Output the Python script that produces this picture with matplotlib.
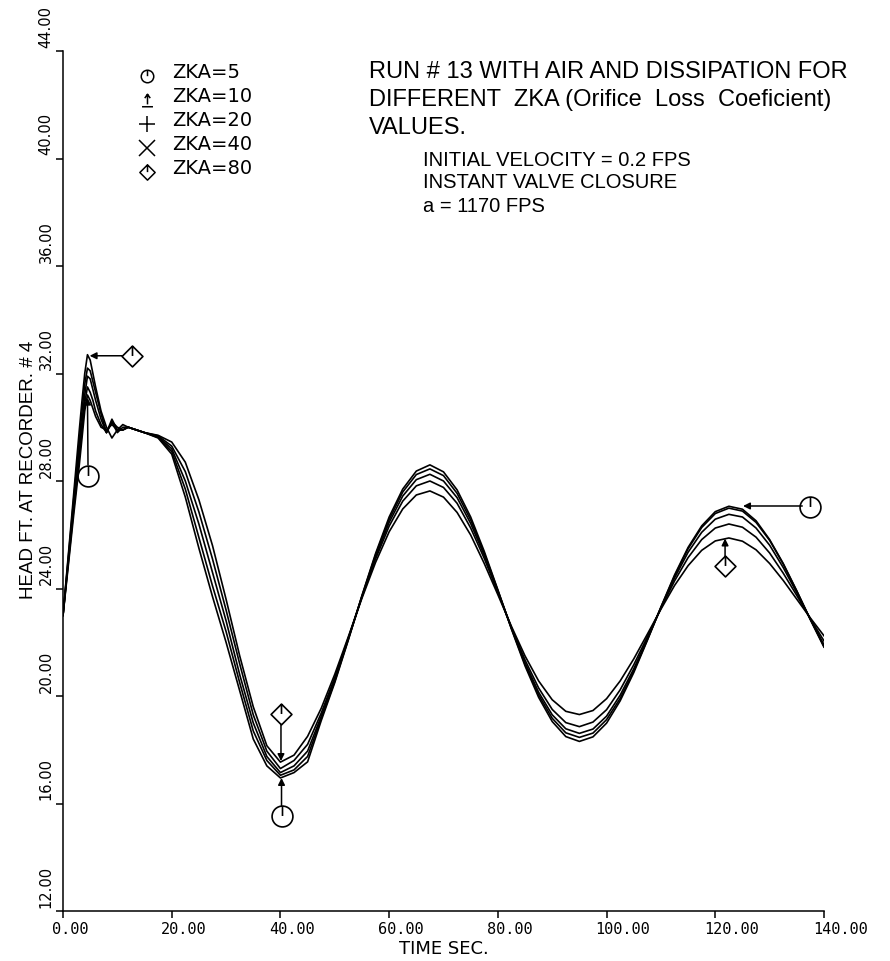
import matplotlib
matplotlib.use("Agg")
import matplotlib.pyplot as plt
from matplotlib.path import Path
from matplotlib.transforms import ScaledTranslation

# time base shared by all runs (sec)
time_sec = [0, 1, 2, 3, 3.5, 4, 4.5, 5, 5.5, 6, 7, 8, 9, 10, 11, 12, 13.5,
            15, 17.5, 20, 22.5, 25, 27.5, 30, 32.5, 35, 37.5, 40, 42.5, 45,
            47.5, 50, 52.5, 55, 57.5, 60, 62.5, 65, 67.5, 70, 72.5, 75, 77.5, 80,
            82.5, 85, 87.5, 90, 92.5, 95, 97.5, 100, 102.5, 105, 107.5, 110,
            112.5, 115, 117.5, 120, 122.5, 125, 127.5, 130, 132.5, 135, 137.5, 140]

# head at recorder #4 (ft) for each orifice loss coefficient
head_zka5 = [23.0, 24.9, 26.8, 28.6, 29.6, 30.6, 31.2, 31.0, 30.7, 30.4, 30.0, 29.9, 30.1, 29.9, 29.9, 30.0, 29.9,
             29.8, 29.6, 29.0, 27.4, 25.5, 23.7, 22.0, 20.2, 18.4, 17.4, 16.95, 17.15, 17.55,
             19.08, 20.50, 22.09, 23.74, 25.30, 26.66, 27.70, 28.37, 28.60, 28.34, 27.67, 26.66, 25.38, 23.95,
             22.49, 21.12, 19.95, 19.05, 18.49, 18.31, 18.48, 18.99, 19.82, 20.87, 22.07, 23.31,
             24.50, 25.53, 26.33, 26.86, 27.06, 26.95, 26.52, 25.82, 24.93, 23.91, 22.84, 21.82]
head_zka10 = [23.0, 25.0, 27.0, 28.9, 29.9, 30.9, 31.5, 31.3, 31.0, 30.6, 30.1, 29.8, 30.2, 30.0, 29.9, 30.0, 29.9,
              29.8, 29.62, 29.1, 27.7, 25.9, 24.1, 22.4, 20.5, 18.7, 17.6, 17.05, 17.25, 17.75,
              19.16, 20.55, 22.11, 23.72, 25.25, 26.57, 27.59, 28.24, 28.45, 28.20, 27.54, 26.55, 25.31, 23.93,
              22.51, 21.18, 20.04, 19.17, 18.63, 18.46, 18.62, 19.12, 19.91, 20.93, 22.09, 23.30,
              24.46, 25.48, 26.27, 26.79, 26.99, 26.88, 26.46, 25.79, 24.91, 23.90, 22.84, 21.83]
head_zka20 = [23.0, 25.1, 27.2, 29.2, 30.2, 31.2, 31.9, 31.8, 31.4, 31.0, 30.3, 29.8, 30.3, 29.9, 29.9, 30.0, 29.9,
              29.8, 29.65, 29.2, 28.0, 26.4, 24.6, 22.8, 20.8, 19.0, 17.75, 17.15, 17.4, 17.95,
              19.24, 20.61, 22.14, 23.70, 25.18, 26.46, 27.44, 28.05, 28.25, 28.00, 27.38, 26.42, 25.23, 23.90,
              22.53, 21.24, 20.14, 19.30, 18.78, 18.61, 18.77, 19.25, 20.03, 21.01, 22.13, 23.28,
              24.39, 25.35, 26.09, 26.58, 26.76, 26.66, 26.25, 25.61, 24.78, 23.84, 22.86, 21.91]
head_zka40 = [23.0, 25.2, 27.4, 29.5, 30.6, 31.6, 32.2, 32.1, 31.7, 31.3, 30.5, 29.8, 30.2, 29.8, 30.0, 30.0, 29.9,
              29.8, 29.68, 29.3, 28.35, 26.85, 25.1, 23.2, 21.2, 19.3, 17.95, 17.3, 17.6, 18.2,
              19.36, 20.69, 22.17, 23.68, 25.10, 26.32, 27.25, 27.82, 28.00, 27.76, 27.17, 26.25, 25.12, 23.85,
              22.55, 21.34, 20.30, 19.50, 19.01, 18.86, 19.03, 19.49, 20.23, 21.16, 22.20, 23.26,
              24.28, 25.15, 25.82, 26.25, 26.40, 26.28, 25.91, 25.32, 24.57, 23.74, 22.87, 22.05]
head_zka80 = [23.0, 25.3, 27.6, 29.9, 31.0, 32.0, 32.7, 32.5, 32.0, 31.5, 30.6, 30.0, 29.6, 29.9, 30.1, 30.0, 29.9,
              29.8, 29.7, 29.45, 28.7, 27.3, 25.6, 23.6, 21.5, 19.6, 18.15, 17.54, 17.8, 18.5,
              19.54, 20.81, 22.21, 23.64, 24.97, 26.11, 26.96, 27.48, 27.63, 27.40, 26.83, 25.99, 24.93, 23.77,
              22.59, 21.49, 20.56, 19.86, 19.43, 19.31, 19.46, 19.90, 20.56, 21.38, 22.30, 23.23,
              24.11, 24.85, 25.42, 25.77, 25.88, 25.76, 25.44, 24.93, 24.30, 23.60, 22.90, 22.24]

zka_values = [5, 10, 20, 40, 80]
x_ticks = [0, 20, 40, 60, 80, 100, 120, 140]
x_tick_labels = ["0.00", "20.00", "40.00", "60.00", "80.00", "100.00", "120.00", "140.00"]
y_ticks = [12, 16, 20, 24, 28, 32, 36, 40, 44]
y_tick_labels = ["12.00", "16.00", "20.00", "24.00", "28.00", "32.00", "36.00", "40.00", "44.00"]

# plotter symbols
M, L, C = Path.MOVETO, Path.LINETO, Path.CLOSEPOLY
circle_sym = Path.make_compound_path(Path.unit_circle(), Path([(0, 1), (0, 0.05)], [M, L]))
diamond_sym = Path([(0, 1), (1, 0), (0, -1), (-1, 0), (0, 1), (0, 1), (0, 0.05)],
                   [M, L, L, L, C, M, L])
arrow_sym = Path([(0, -0.5), (0, 0.8), (-0.35, 0.3), (0, 0.8), (0.35, 0.3), (-0.7, -0.8), (0.7, -0.8)],
                 [M, L, M, L, L, M, L])
symbols = [circle_sym, arrow_sym, "+", "x", diamond_sym]

fig = plt.figure(figsize=(8.9, 9.62), dpi=100)
W, H = 890, 962
ax = fig.add_axes([63 / W, 50 / H, 761 / W, 860 / H])

for head in [head_zka5, head_zka10, head_zka20, head_zka40, head_zka80]:
    ax.plot(time_sec, head, color="black", lw=1.2)

ax.set_xlim(0, 140)
ax.set_ylim(12, 44)
ax.spines["top"].set_visible(False)
ax.spines["right"].set_visible(False)
ax.spines["left"].set_linewidth(1.1)
ax.spines["bottom"].set_linewidth(1.1)
ax.set_xticks(x_ticks)
ax.set_yticks(y_ticks)
ax.set_xticklabels([])
ax.set_yticklabels([])
ax.tick_params(direction="out", length=5, width=1.1)

# tick labels in plotter style
tick_font = {"family": "DejaVu Sans Mono", "size": 11}
xlab_trans = ax.get_xaxis_transform() + ScaledTranslation(-11 / 100, -10 / 100, fig.dpi_scale_trans)
for xv, lab in zip(x_ticks, x_tick_labels):
    ax.text(xv, 0, lab, transform=xlab_trans, ha="left", va="top", fontdict=tick_font)
ylab_trans = ax.get_yaxis_transform() + ScaledTranslation(-17 / 100, 4 / 100, fig.dpi_scale_trans)
for yv, lab in zip(y_ticks, y_tick_labels):
    ax.text(0, yv, lab, transform=ylab_trans, ha="center", va="bottom", rotation=90,
            fontfamily="DejaVu Sans", fontsize=10.5)

ax.text(0.5, -0.033, "TIME SEC.", transform=ax.transAxes, ha="center", va="top",
        fontfamily="DejaVu Sans", fontsize=13)
ax.set_ylabel("HEAD FT. AT RECORDER. # 4", fontfamily="Liberation Sans", fontsize=13.5)
ax.yaxis.set_label_coords(-0.034, 0.514)

# marker call-outs
arrow_kw = dict(arrowstyle="-|>", color="black", lw=1.1, mutation_scale=10, shrinkA=0, shrinkB=0)
mk_kw = dict(ls="none", mfc="none", mec="black", mew=1.2, ms=15)

ax.plot([12.7], [32.66], marker=diamond_sym, **mk_kw)
ax.annotate("", xy=(4.9, 32.66), xytext=(10.9, 32.66), arrowprops=arrow_kw)
ax.plot([4.6], [28.19], marker=circle_sym, **mk_kw)
ax.annotate("", xy=(4.5, 31.1), xytext=(4.6, 28.6), arrowprops=arrow_kw)

ax.plot([40.1], [19.33], marker=diamond_sym, **mk_kw)
ax.annotate("", xy=(40.1, 17.58), xytext=(40.1, 18.95), arrowprops=arrow_kw)
ax.plot([40.2], [15.53], marker=circle_sym, **mk_kw)
ax.annotate("", xy=(40.2, 16.95), xytext=(40.2, 15.92), arrowprops=arrow_kw)

ax.plot([137.5], [27.03], marker=circle_sym, **mk_kw)
ax.annotate("", xy=(125.1, 27.07), xytext=(136.0, 27.07), arrowprops=arrow_kw)
ax.plot([121.8], [24.84], marker=diamond_sym, **mk_kw)
ax.annotate("", xy=(121.8, 25.86), xytext=(121.8, 25.2), arrowprops=arrow_kw)


def fig_xy(px, py):
    return px / W, 1 - py / H


# symbol key
for i, (z, sym) in enumerate(zip(zka_values, symbols)):
    ty = 72 + 24 * i
    sx, sy = fig_xy(147, ty + 5)
    fig.add_artist(plt.Line2D([sx], [sy], marker=sym, ls="none", mfc="none", mec="black",
                              mew=1.1, ms=9 if i < 2 else 11))
    fig.text(*fig_xy(172, ty), "ZKA=%d" % z, ha="left", va="center",
             fontfamily="DejaVu Sans", fontsize=14)

title_lines = ["RUN # 13 WITH AIR AND DISSIPATION FOR",
               "DIFFERENT  ZKA (Orifice  Loss  Coeficient)",
               "VALUES."]
for i, line in enumerate(title_lines):
    fig.text(*fig_xy(369, 72 + 28 * i), line, ha="left", va="center",
             fontfamily="Liberation Sans", fontsize=17)

note_lines = ["INITIAL VELOCITY = 0.2 FPS", "INSTANT VALVE CLOSURE", "a = 1170 FPS"]
for i, line in enumerate(note_lines):
    fig.text(*fig_xy(423, 160 + 23 * i), line, ha="left", va="center",
             fontfamily="Liberation Sans", fontsize=14.5)

fig.savefig("out.png", dpi=100)
